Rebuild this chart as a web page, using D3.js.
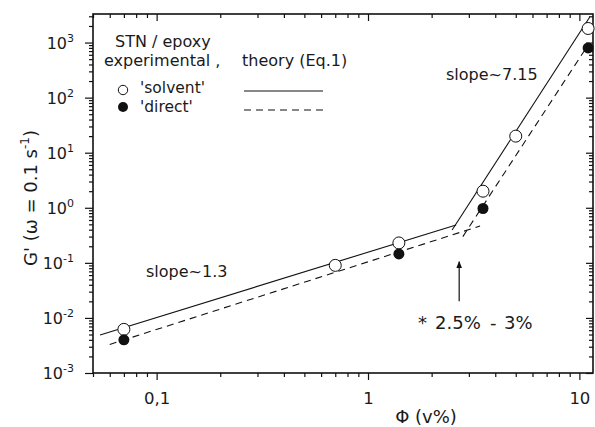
<!DOCTYPE html>
<html>
<head>
<meta charset="utf-8">
<script src="https://cdn.jsdelivr.net/npm/d3@7"></script>
<style>
  body { margin: 0; background: #fff; }
  svg { display: block; font-family: "DejaVu Sans", sans-serif; }
  text { fill: #1a1a1a; }
</style>
</head>
<body>
<div id="chart"></div>
<script>
var width = 595;
var height = 427;

// data
var phiSolvent = [0.07, 0.7, 1.4, 3.5, 5, 11];
var gSolvent = [0.0062, 0.09, 0.23, 2.0, 20, 1800];
var phiDirect = [0.07, 1.4, 3.5, 11];
var gDirect = [0.004, 0.145, 0.97, 800];

// theory (Eq.1) segments [phi, G']
var solidLow = [[0.054, 0.0049], [2.61, 0.487]];
var solidHigh = [[2.5, 0.395], [11.2, 2920]];
var dashLow = [[0.06, 0.0033], [3.39, 0.467]];
var dashHigh = [[2.81, 0.30], [11.0, 904]];

var xMajor = [0.1, 1, 10];
var xMajorLabels = ["0,1", "1", "10"];
var yMajor = [1e-3, 1e-2, 1e-1, 1e0, 1e1, 1e2, 1e3];
var yExp = ["-3", "-2", "-1", "0", "1", "2", "3"];

var x = d3.scaleLog().domain([0.05, 11.6]).range([93, 593]);
var y = d3.scaleLog().domain([1e-3, 3300]).range([373, 14]);

function minors(domain) {
	var out = [];
	for (var e = -4; e <= 4; e++) {
		for (var m = 2; m <= 9; m++) {
			var v = m * Math.pow(10, e);
			if (v >= domain[0] && v <= domain[1]) out.push(v);
		}
	}
	return out;
}
var xMinor = minors(x.domain());
var yMinor = minors(y.domain());

var svg = d3.select("#chart").append("svg")
	.attr("width", width)
	.attr("height", height);

function styleAxis(g) {
	g.select(".domain").remove();
	g.selectAll(".tick line").attr("stroke", "#111").attr("stroke-width", 1.2);
}

// bottom axis (ticks outward)
svg.append("g").attr("transform", "translate(0,373)")
	.call(d3.axisBottom(x).tickValues(xMinor).tickSize(4).tickFormat("")).call(styleAxis);
var xb = svg.append("g").attr("transform", "translate(0,373)")
	.call(d3.axisBottom(x).tickValues(xMajor).tickSize(7).tickPadding(12)
		.tickFormat(function(d, i) { return xMajorLabels[i]; }))
	.call(styleAxis);
xb.selectAll(".tick text").attr("font-size", 16.5).attr("font-family", "DejaVu Sans");

// top axis (ticks inward)
svg.append("g").attr("transform", "translate(0,14)")
	.call(d3.axisTop(x).tickValues(xMinor).tickSize(-4).tickFormat("")).call(styleAxis);
svg.append("g").attr("transform", "translate(0,14)")
	.call(d3.axisTop(x).tickValues(xMajor).tickSize(-7).tickFormat("")).call(styleAxis);

// left axis (ticks outward)
svg.append("g").attr("transform", "translate(93,0)")
	.call(d3.axisLeft(y).tickValues(yMinor).tickSize(4).tickFormat("")).call(styleAxis);
var yl = svg.append("g").attr("transform", "translate(93,0)")
	.call(d3.axisLeft(y).tickValues(yMajor).tickSize(8).tickPadding(11).tickFormat(""))
	.call(styleAxis);
yl.selectAll(".tick text")
	.attr("font-size", 16).attr("font-family", "DejaVu Sans").attr("dy", "0.36em")
	.each(function(d, i) {
		var t = d3.select(this);
		t.append("tspan").text("10");
		t.append("tspan").attr("font-size", 11).attr("dy", -7).text(yExp[i]);
	});

// right axis (ticks inward)
svg.append("g").attr("transform", "translate(593,0)")
	.call(d3.axisRight(y).tickValues(yMinor).tickSize(-4).tickFormat("")).call(styleAxis);
svg.append("g").attr("transform", "translate(593,0)")
	.call(d3.axisRight(y).tickValues(yMajor).tickSize(-7).tickFormat("")).call(styleAxis);

// frame
svg.append("rect")
	.attr("x", 93).attr("y", 14)
	.attr("width", 500).attr("height", 359)
	.attr("fill", "none").attr("stroke", "#111").attr("stroke-width", 1.6);

// theory lines
var line = d3.line().x(function(d) { return x(d[0]); }).y(function(d) { return y(d[1]); });
var grupo_lineas = svg.append("g").attr("fill", "none").attr("stroke", "#111").attr("stroke-width", 1.1);
[solidLow, solidHigh].forEach(function(seg) {
	grupo_lineas.append("path").attr("d", line(seg));
});
[dashLow, dashHigh].forEach(function(seg) {
	grupo_lineas.append("path").attr("d", line(seg)).attr("stroke-dasharray", "7,5");
});

// data points
svg.append("g").selectAll("circle").data(phiSolvent).enter().append("circle")
	.attr("cx", function(d) { return x(d); })
	.attr("cy", function(d, i) { return y(gSolvent[i]); })
	.attr("r", 6).attr("fill", "#fff").attr("stroke", "#111").attr("stroke-width", 1);
svg.append("g").selectAll("circle").data(phiDirect).enter().append("circle")
	.attr("cx", function(d) { return x(d); })
	.attr("cy", function(d, i) { return y(gDirect[i]); })
	.attr("r", 5.5).attr("fill", "#111");

// arrow at the percolation threshold
svg.append("defs").append("marker")
	.attr("id", "head").attr("viewBox", "0 0 10 10")
	.attr("refX", 9).attr("refY", 5)
	.attr("markerWidth", 6).attr("markerHeight", 9).attr("orient", "auto")
	.append("path").attr("d", "M0,1 L10,5 L0,9 Z").attr("fill", "#111");
svg.append("line")
	.attr("x1", x(2.7)).attr("x2", x(2.7))
	.attr("y1", y(0.02)).attr("y2", y(0.105))
	.attr("stroke", "#111").attr("stroke-width", 1.2)
	.attr("marker-end", "url(#head)");

// annotations
svg.append("text").attr("x", 146).attr("y", 277).attr("font-size", 16).text("slope~1.3");
svg.append("text").attr("x", 446).attr("y", 80).attr("font-size", 16).text("slope~7.15");
var thr = svg.append("text").attr("y", 329).attr("font-size", 18);
thr.append("tspan").attr("x", 418).text("*");
thr.append("tspan").attr("x", 435).text("2.5%");
thr.append("tspan").attr("x", 490).text("-");
thr.append("tspan").attr("x", 504).text("3%");

// legend
var legend = svg.append("g").attr("font-size", 16);
legend.append("text").attr("x", 115).attr("y", 47).text("STN / epoxy");
legend.append("text").attr("x", 104).attr("y", 66).text("experimental ,");
legend.append("text").attr("x", 242).attr("y", 66).text("theory (Eq.1)");
legend.append("circle").attr("cx", 123).attr("cy", 90).attr("r", 4.7)
	.attr("fill", "#fff").attr("stroke", "#111").attr("stroke-width", 1);
legend.append("text").attr("x", 140).attr("y", 93).attr("font-size", 15.5).text("'solvent'");
legend.append("circle").attr("cx", 123).attr("cy", 107).attr("r", 5).attr("fill", "#111");
legend.append("text").attr("x", 140).attr("y", 112).attr("font-size", 15.5).text("'direct'");
legend.append("line").attr("x1", 244).attr("x2", 323).attr("y1", 91).attr("y2", 91)
	.attr("stroke", "#111").attr("stroke-width", 1.1);
legend.append("line").attr("x1", 244).attr("x2", 323).attr("y1", 110).attr("y2", 110)
	.attr("stroke", "#111").attr("stroke-width", 1.1).attr("stroke-dasharray", "7,5");

// axis titles
svg.append("text").attr("x", 426).attr("y", 423).attr("text-anchor", "middle")
	.attr("font-size", 18).text("\u03A6 (v%)");
var yt = svg.append("text").attr("transform", "translate(37,198) rotate(-90)")
	.attr("text-anchor", "middle").attr("font-size", 18);
yt.append("tspan").text("G' (\u03C9 = 0.1 s");
yt.append("tspan").attr("font-size", 12).attr("dy", -8).text("-1");
yt.append("tspan").attr("dy", 8).text(")");
</script>
</body>
</html>
